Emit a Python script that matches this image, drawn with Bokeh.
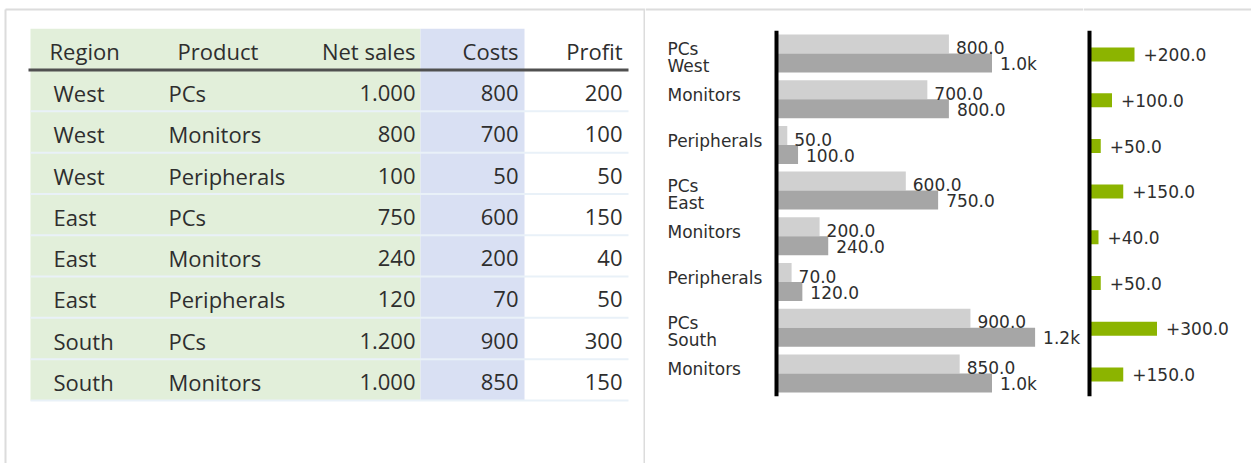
from bokeh.plotting import figure
from bokeh.layouts import row
from bokeh.models import Range1d
from bokeh.core.properties import value
from bokeh.embed import file_html
from bokeh.resources import INLINE

# ---------------- data ----------------
regions = ["West", "West", "West", "East", "East", "East", "South", "South"]
products = ["PCs", "Monitors", "Peripherals", "PCs", "Monitors", "Peripherals", "PCs", "Monitors"]
net_sales = [1000, 800, 100, 750, 240, 120, 1200, 1000]
costs = [800, 700, 50, 600, 200, 70, 900, 850]
profit = [200, 100, 50, 150, 40, 50, 300, 150]
headers = ["Region", "Product", "Net sales", "Costs", "Profit"]

# ---------------- layout constants ----------------
H = 463
TW, CW, PW = 645, 438, 168
ROW_PX = 41.3      # table row pitch (px)
ROW0 = 90.2        # px centre of first table row
CAT_PX = 45.7      # chart category pitch (px)
CAT0 = 53.0        # px centre of first category
SCALE = 0.2155     # px per unit, sales/costs chart
ZERO = 131         # px of the zero line inside the sales/costs chart
PSCALE = 0.225     # px per unit, profit chart
PZERO = 6
BORDER = "#dcdcdc"
TXT = "#2e2e2e"
CFONT = value("DejaVu Sans")
TFIX = 8.8         # baseline correction, table text (px)
CFIX = 6.8         # baseline correction, chart text (px)

n = len(regions)
ys = list(range(n))


def mkfig(w, xr, yr):
    p = figure(width=w, height=H, x_range=xr, y_range=yr, output_backend="svg",
               toolbar_location=None, x_axis_type=None, y_axis_type=None,
               min_border=0, min_border_left=0, min_border_right=0,
               min_border_top=0, min_border_bottom=0)
    p.outline_line_color = None
    p.background_fill_color = "white"
    p.border_fill_color = "white"
    p.xgrid.visible = False
    p.ygrid.visible = False
    return p


def fmt_table(v):
    return f"{v:,}".replace(",", ".")


def fmt_val(v):
    return f"{v/1000:.1f}k" if v >= 1000 else f"{v:.1f}"


# ---------------- table ----------------
t_top = -ROW0 / ROW_PX
t_bot = (H - ROW0) / ROW_PX
tbl = mkfig(TW, Range1d(0, TW), Range1d(t_bot, t_top))

tbl.quad(left=30, right=420, top=-1.5, bottom=n - 0.5, color="#e2efda", line_color=None)
tbl.quad(left=420, right=524, top=-1.5, bottom=n - 0.5, color="#d9e0f3", line_color=None)
tbl.segment(x0=[30] * n, x1=[628] * n, y0=[i + 0.5 for i in ys], y1=[i + 0.5 for i in ys],
            line_color="#e9f1f8", line_width=2)
tbl.segment(x0=[28], x1=[628], y0=[-0.5], y1=[-0.5], line_color="#505050", line_width=3)

tfont = value("Open Sans")
col_x = [53, 168, 415, 518, 622]
head_x = [49, 177, 415, 518, 622]
aligns = ["left", "left", "right", "right", "right"]
cols = [regions, products, [fmt_table(v) for v in net_sales],
        [fmt_table(v) for v in costs], [fmt_table(v) for v in profit]]
row_base = (11 - TFIX) / ROW_PX
head_base = (10 - TFIX) / ROW_PX
for cx, hx, al, col, hd in zip(col_x, head_x, aligns, cols, headers):
    tbl.text(x=[cx] * n, y=[i + row_base for i in ys], text=col, text_align=al,
             text_baseline="alphabetic", text_font=tfont, text_font_size="22px",
             text_color=TXT)
    tbl.text(x=[hx], y=[-1 + head_base], text=[hd], text_align=al,
             text_baseline="alphabetic", text_font=tfont, text_font_size="22px",
             text_color=TXT)

# borders
tbl.segment(x0=[5], x1=[TW], y0=[t_top + 9 / ROW_PX], y1=[t_top + 9 / ROW_PX],
            line_color=BORDER, line_width=2)
tbl.segment(x0=[5, 644], x1=[5, 644], y0=[t_top + 9 / ROW_PX] * 2, y1=[t_bot] * 2,
            line_color=BORDER, line_width=2)

# ---------------- sales / costs chart ----------------
c_top = -CAT0 / CAT_PX
c_bot = (H - CAT0) / CAT_PX
ch = mkfig(CW, Range1d(-ZERO / SCALE, (CW - ZERO) / SCALE), Range1d(c_bot, c_top))
bh = 19 / CAT_PX
ch.hbar(y=[i - bh / 2 for i in ys], left=0, right=costs, height=bh,
        color="#d0d0d0", line_color=None)
ch.hbar(y=[i + bh / 2 for i in ys], left=0, right=net_sales, height=bh,
        color="#a6a6a6", line_color=None)
ch.segment(x0=[0], x1=[0], y0=[-0.5], y1=[n - 0.5], line_color="black", line_width=4)

ch.text(x=costs, y=[i + (1 - CFIX) / CAT_PX for i in ys], text=[fmt_val(v) for v in costs],
        x_offset=7, text_align="left", text_baseline="alphabetic",
        text_font=CFONT, text_font_size="17px", text_color=TXT)
ch.text(x=net_sales, y=[i + (17 - CFIX) / CAT_PX for i in ys],
        text=[fmt_val(v) for v in net_sales],
        x_offset=8, text_align="left", text_baseline="alphabetic",
        text_font=CFONT, text_font_size="17px", text_color=TXT)

# category labels
ch.text(x=[0] * n, y=[i + (2.5 - CFIX) / CAT_PX for i in ys], text=products, x_offset=-109,
        text_align="left", text_baseline="alphabetic",
        text_font=CFONT, text_font_size="17px", text_color=TXT)
first_idx = [i for i in ys if i == 0 or regions[i] != regions[i - 1]]
ch.text(x=[0] * len(first_idx), y=[i + (19.5 - CFIX) / CAT_PX for i in first_idx],
        text=[regions[i] for i in first_idx], x_offset=-109,
        text_align="left", text_baseline="alphabetic",
        text_font=CFONT, text_font_size="17px", text_color=TXT)

ch.segment(x0=[-ZERO / SCALE], x1=[(CW - ZERO) / SCALE], y0=[c_top + 9 / CAT_PX],
           y1=[c_top + 9 / CAT_PX], line_color=BORDER, line_width=2)

# ---------------- profit chart ----------------
pr = mkfig(PW, Range1d(-PZERO / PSCALE, (PW - PZERO) / PSCALE), Range1d(c_bot, c_top))
pr.hbar(y=[i + 1 / CAT_PX for i in ys], left=0, right=profit, height=14 / CAT_PX,
        color="#8cb400", line_color=None)
pr.segment(x0=[0], x1=[0], y0=[-0.5], y1=[n - 0.5], line_color="black", line_width=4)
pr.text(x=profit, y=[i + (8 - CFIX) / CAT_PX for i in ys], text=[f"+{v:.1f}" for v in profit],
        x_offset=9, text_align="left", text_baseline="alphabetic",
        text_font=CFONT, text_font_size="17px", text_color=TXT)
pr.segment(x0=[-PZERO / PSCALE], x1=[(PW - PZERO) / PSCALE], y0=[c_top + 9 / CAT_PX],
           y1=[c_top + 9 / CAT_PX], line_color=BORDER, line_width=2)

layout = row(tbl, ch, pr, spacing=0)
open("out.html", "w").write(file_html(layout, INLINE))
